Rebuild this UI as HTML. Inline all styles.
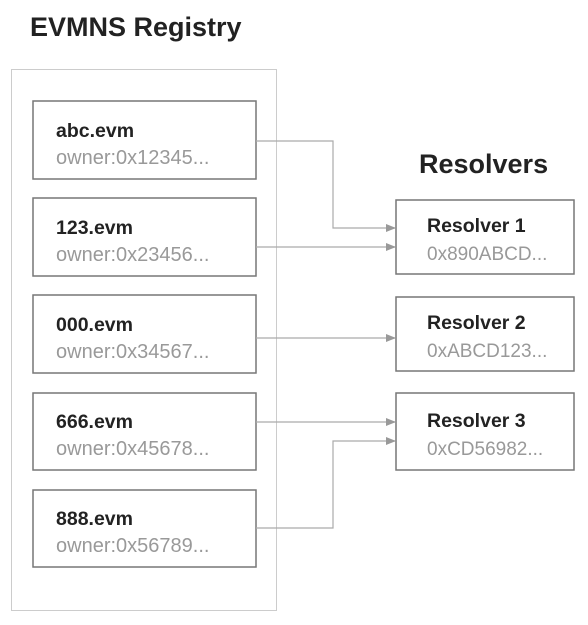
<!DOCTYPE html>
<html><head><style>body{margin:0;background:#fff}svg{display:block}</style></head><body>
<svg width="588" height="625" xmlns="http://www.w3.org/2000/svg" font-family="Liberation Sans, sans-serif">
<defs><marker id="a" markerWidth="10" markerHeight="8" refX="9" refY="4" orient="auto" markerUnits="userSpaceOnUse"><path d="M0,0 L10,4 L0,8 z" fill="#999"/></marker></defs>
<text x="30" y="36" font-size="27" font-weight="bold" fill="#222">EVMNS Registry</text>
<text x="419" y="173" font-size="27" font-weight="bold" fill="#222">Resolvers</text>
<rect x="11.5" y="69.5" width="265" height="541" fill="none" stroke="#ccc" stroke-width="1"/>
<g fill="#fff" stroke="#777" stroke-width="1.5">
<rect x="33" y="101" width="223" height="78"/>
<rect x="33" y="198" width="223" height="78"/>
<rect x="33" y="295" width="223" height="78"/>
<rect x="33" y="393" width="223" height="77"/>
<rect x="33" y="490" width="223" height="77"/>
<rect x="396" y="200" width="178" height="74"/>
<rect x="396" y="297" width="178" height="74"/>
<rect x="396" y="393" width="178" height="77"/>
</g>
<g fill="none" stroke="#aaa" stroke-width="1.2">
<path d="M256 141 H333 V228 H395" marker-end="url(#a)"/>
<path d="M256 247 H395" marker-end="url(#a)"/>
<path d="M256 338 H395" marker-end="url(#a)"/>
<path d="M256 422 H395" marker-end="url(#a)"/>
<path d="M256 528 H333 V441 H395" marker-end="url(#a)"/>
</g>
<g font-size="20">
<g font-size="19.5" font-weight="bold" fill="#222">
<text x="56" y="137">abc.evm</text>
<text x="56" y="234">123.evm</text>
<text x="56" y="331">000.evm</text>
<text x="56" y="428">666.evm</text>
<text x="56" y="525">888.evm</text>
<text x="427" y="232">Resolver 1</text>
<text x="427" y="329">Resolver 2</text>
<text x="427" y="427">Resolver 3</text>
</g>
<g fill="#999">
<text x="56" y="164">owner:0x12345...</text>
<text x="56" y="261">owner:0x23456...</text>
<text x="56" y="358">owner:0x34567...</text>
<text x="56" y="455">owner:0x45678...</text>
<text x="56" y="552">owner:0x56789...</text>
<text x="427" y="260" font-size="19">0x890ABCD...</text>
<text x="427" y="357" font-size="19">0xABCD123...</text>
<text x="427" y="455" font-size="19">0xCD56982...</text>
</g>
</g>
</svg>
</body></html>
